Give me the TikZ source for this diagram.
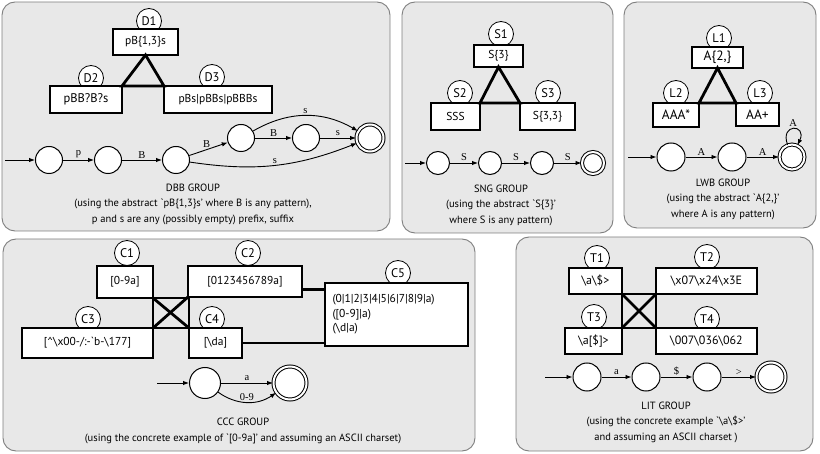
\documentclass[tikz,border=0pt]{standalone}
\usepackage{fontspec}
\setmainfont{PT Sans}
\newfontfamily\edgefont{Liberation Serif}
\usetikzlibrary{arrows.meta}
\definecolor{panelgray}{HTML}{E8E8E8}
\definecolor{panelline}{HTML}{7F7F7F}

\begin{document}
\begin{tikzpicture}[x=1pt, y=1pt, font=\fontsize{11.5}{12}\selectfont,
    panel/.style={draw=panelline, fill=panelgray, line width=0.9pt, rounded corners=13pt},
    tag/.style={draw, circle, fill=white, minimum size=25pt, inner sep=0pt, line width=0.8pt, font=\fontsize{12.5}{13}\selectfont},
    box/.style={draw, fill=white, line width=2.6pt, inner sep=0pt, outer sep=0pt, minimum height=26pt},
    heavy/.style={line width=2.8pt},
    st/.style={draw, circle, fill=white, line width=1pt, minimum size=28pt, inner sep=0pt},
    acc/.style={st, double, double distance=2pt},
    move/.style={-{Latex[length=6pt,width=4.5pt]}, line width=0.9pt},
    lbl/.style={font=\edgefont\fontsize{10.5}{10.5}\selectfont, inner sep=1.5pt},
    caption/.style={align=center, font=\fontsize{10.5}{15.5}\selectfont}]
    \useasboundingbox (0,0) rectangle (820,453);

    % DBB group
    \draw[panel] (2,222) rectangle (390,451);
    \node[tag] (d1n) at (149,432) {D1};
    \node[tag] (d2n) at (91,375) {D2};
    \node[tag] (d3n) at (212,376) {D3};
    \node[box, minimum width=65pt] (d1) at (145.5,411) {pB\{1,3\}s};
    \node[box, minimum width=72pt, minimum height=27pt, font=\fontsize{12.5}{13}\selectfont] (d2) at (86,353.5) {pBB?B?s};
    \node[box, minimum width=108pt, minimum height=27pt] (d3) at (218,353.5) {pBs|pBBs|pBBBs};
    \draw[heavy] (d1.south) -- (d2.north east) -- (d3.north west) -- cycle;

    \coordinate (din) at (5,293);
    \node[st, minimum size=27pt] (dq0) at (49,293) {};
    \node[st, minimum size=27pt] (dq1) at (108,293) {};
    \node[st, minimum size=27pt] (dq2) at (176,293) {};
    \node[st, minimum size=27pt] (dq3) at (241,315) {};
    \node[st, minimum size=27pt] (dq4) at (306,315) {};
    \node[acc, minimum size=27pt] (dq5) at (370,315) {};
    \draw[move] (din) -- (dq0);
    \draw[move] (dq0) -- (dq1) node[midway, above, lbl] {p};
    \draw[move] (dq1) -- (dq2) node[midway, above, lbl] {B};
    \draw[move] (dq2) -- (dq3) node[pos=0.45, above, lbl] {B};
    \draw[move] (dq3) -- (dq4) node[midway, above, lbl] {B};
    \draw[move] (dq4) -- (dq5) node[midway, above, lbl] {s};
    \draw[move] (dq3) to[bend left=30] node[midway, above, lbl] {s} (dq5);
    \draw[move] (dq2) to[bend right=15] node[midway, above, lbl] {s} (dq5);
    \node[caption] (dcap) at (193,249) {DBB GROUP\\(using the abstract \textasciigrave pB\{1,3\}s' where B is any pattern),\\p and s are any (possibly empty) prefix, suffix};

    % SNG group
    \draw[panel] (402,220) rectangle (613,451);
    \node[tag] (s1n) at (501,419) {S1};
    \node[tag] (s2n) at (460,360) {S2};
    \node[tag] (s3n) at (548,360) {S3};
    \node[box, minimum width=49pt, minimum height=22pt] (s1) at (498.5,397) {S\{3\}};
    \node[box, minimum width=49pt, minimum height=27pt] (s2) at (455.5,336.5) {SSS};
    \node[box, minimum width=55pt, minimum height=27pt] (s3) at (547.5,336.5) {S\{3,3\}};
    \draw[heavy] (s1.south) -- (s2.north east) -- (s3.north west) -- cycle;

    \coordinate (sin) at (405,290);
    \node[st, minimum size=23pt] (sq0) at (438,290) {};
    \node[st, minimum size=23pt] (sq1) at (490,290) {};
    \node[st, minimum size=23pt] (sq2) at (542,290) {};
    \node[acc, minimum size=22pt] (sq3) at (593,290) {};
    \draw[move] (sin) -- (sq0);
    \draw[move] (sq0) -- (sq1) node[midway, above, lbl] {S};
    \draw[move] (sq1) -- (sq2) node[midway, above, lbl] {S};
    \draw[move] (sq2) -- (sq3) node[midway, above, lbl] {S};
    \node[caption] (scap) at (501,248) {SNG GROUP\\(using the abstract \textasciigrave S\{3\}'\\where S is any pattern)};

    % LWB group
    \draw[panel] (624,225) rectangle (816,451);
    \node[tag] (l1n) at (719,415) {L1};
    \node[tag] (l2n) at (676,360) {L2};
    \node[tag] (l3n) at (760,360) {L3};
    \node[box, minimum width=51pt, minimum height=21pt, font=\fontsize{13.5}{14}\selectfont] (l1) at (717.5,395.5) {A\{2,\}};
    \node[box, minimum width=46pt, minimum height=24pt, font=\fontsize{13.5}{14}\selectfont] (l2) at (676,338) {AAA*};
    \node[box, minimum width=43pt, minimum height=23pt, font=\fontsize{13.5}{14}\selectfont] (l3) at (757.5,338.5) {AA+};
    \draw[heavy] (l1.south) -- (l2.north east) -- (l3.north west) -- cycle;

    \coordinate (lin) at (628,296);
    \node[st] (lq0) at (671,296) {};
    \node[st] (lq1) at (732,296) {};
    \node[acc, minimum size=25pt] (lq2) at (792,296) {};
    \draw[move] (lin) -- (lq0);
    \draw[move] (lq0) -- (lq1) node[midway, above, lbl] {A};
    \draw[move] (lq1) -- (lq2) node[midway, above, lbl] {A};
    \draw[move] (lq2) to[out=110, in=65, looseness=6] node[midway, above, lbl] {A} (lq2);
    \node[caption] (lcap) at (723,254) {LWB GROUP\\(using the abstract \textasciigrave A\{2,\}'\\where A is any pattern)};

    % CCC group
    \draw[panel] (3,2) rectangle (475,214);
    \node[tag] (c1n) at (127,200) {C1};
    \node[tag] (c2n) at (248,200) {C2};
    \node[tag] (c3n) at (88,134) {C3};
    \node[tag] (c4n) at (212,134) {C4};
    \node[tag] (c5n) at (398,180) {C5};
    \node[box, minimum width=56pt, minimum height=32pt] (c1) at (125,171) {[0-9a]};
    \node[box, minimum width=114pt, minimum height=31pt] (c2) at (245,171.5) {[0123456789a]};
    \node[box, minimum width=131pt, minimum height=30pt] (c3) at (87.5,110) {[\textasciicircum\textbackslash x00-/:-\textasciigrave b-\textbackslash 177]};
    \node[box, minimum width=53pt, minimum height=30pt] (c4) at (215.5,110) {[\textbackslash da]};
    \node[box, minimum width=143pt, minimum height=63pt, align=left, text width=128pt, font=\fontsize{11.5}{14.5}\selectfont] (c5) at (396.5,138.5) {(0|1|2|3|4|5|6|7|8|9|a)\\([0-9]|a)\\(\textbackslash d|a)};
    \draw[heavy] (c1.south east) rectangle (c4.north west);
    \draw[heavy] (c1.south east) -- (c4.north west);
    \draw[heavy] (c2.south west) -- (c3.north east);
    \coordinate (c2out) at ([yshift=-8pt]c2.east);
    \draw[heavy] (c2out) -- (c2out -| c5.west);
    \draw[heavy] (c4.east) -- (c4.east -| c5.west);

    \coordinate (cin) at (157,70);
    \node[st, minimum size=31pt] (cq0) at (205,70) {};
    \node[acc, minimum size=33pt] (cq1) at (290,70) {};
    \draw[move] (cin) -- (cq0);
    \draw[move] (cq0) -- (cq1) node[midway, above, lbl] {a};
    \draw[move] (cq0) to[bend right=35] node[midway, above, lbl] {0-9} (cq1);
    \node[caption] (ccap) at (243,22) {CCC GROUP\\(using the concrete example of \textasciigrave{}[0-9a]' and assuming an ASCII charset)};

    % LIT group
    \draw[panel] (516,2) rectangle (813,216);
    \node[tag] (t1n) at (597,195) {T1};
    \node[tag] (t2n) at (707,196) {T2};
    \node[tag] (t3n) at (594,136) {T3};
    \node[tag] (t4n) at (707,134) {T4};
    \node[box, minimum width=53pt, font=\fontsize{12}{12}\selectfont] (t1) at (595.5,172) {\textbackslash a\textbackslash\$>};
    \node[box, minimum width=101pt, font=\fontsize{12}{12}\selectfont] (t2) at (706.5,172) {\textbackslash x07\textbackslash x24\textbackslash x3E};
    \node[box, minimum width=57pt, font=\fontsize{12}{12}\selectfont] (t3) at (593.5,112) {\textbackslash a[\$]>};
    \node[box, minimum width=101pt, font=\fontsize{12}{12}\selectfont] (t4) at (706.5,112) {\textbackslash 007\textbackslash 036\textbackslash 062};
    \draw[heavy] (t1.south east) rectangle (t4.north west);
    \draw[heavy] (t1.south east) -- (t4.north west);
    \draw[heavy] (t2.south west) -- (t3.north east);

    \coordinate (tin) at (545,76);
    \node[st] (tq0) at (587,76) {};
    \node[st] (tq1) at (646,76) {};
    \node[st] (tq2) at (707,76) {};
    \node[acc, minimum size=29pt] (tq3) at (771,76) {};
    \draw[move] (tin) -- (tq0);
    \draw[move] (tq0) -- (tq1) node[midway, above, lbl] {a};
    \draw[move] (tq1) -- (tq2) node[midway, above, lbl] {\$};
    \draw[move] (tq2) -- (tq3) node[midway, above, lbl] {>};
    \node[caption] (tcap) at (666,31) {LIT GROUP\\(using the concrete example \textasciigrave\textbackslash a\textbackslash\$>'\\and assuming an ASCII charset )};
\end{tikzpicture}
\end{document}
